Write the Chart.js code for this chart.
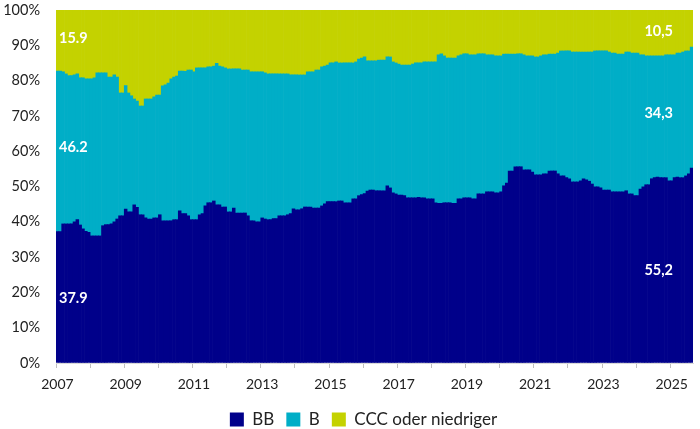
<!DOCTYPE html>
<html>
<head>
<meta charset="utf-8">
<script src="https://cdn.jsdelivr.net/npm/chart.js@4.4.1/dist/chart.umd.min.js"></script>
<style>
  html, body { margin: 0; padding: 0; background: #fff; }
  #wrap { width: 700px; height: 429px; }
</style>
</head>
<body>
<div id="wrap"><canvas id="chart"></canvas></div>
<script>
// Monatswerte Jan 2007 - Aug 2025, Anteile in %
const years = ['2007', '2008', '2009', '2010', '2011', '2012', '2013', '2014', '2015', '2016',
  '2017', '2018', '2019', '2020', '2021', '2022', '2023', '2024', '2025'];
const lastMonth = 8; // Aug 2025

const bbShare = [
  37.2, 37.2, 39.4, 39.4, 39.4, 39.4, 40.0, 40.6, 39.1, 38.0, 37.3, 37.0,
  36.0, 36.0, 36.0, 36.0, 38.9, 39.2, 39.2, 39.4, 40.0, 40.8, 41.7, 41.7,
  43.6, 42.8, 42.8, 44.8, 44.1, 42.0, 42.0, 41.1, 40.8, 40.8, 41.1, 41.1,
  42.0, 40.3, 40.3, 40.3, 40.3, 40.6, 40.6, 43.1, 42.3, 42.3, 41.7, 40.6,
  40.6, 40.6, 42.0, 42.3, 44.5, 45.4, 45.4, 45.9, 44.8, 44.8, 44.2, 44.2,
  42.8, 42.8, 43.9, 42.5, 42.5, 42.5, 42.5, 41.7, 40.3, 40.3, 40.0, 40.0,
  41.1, 40.8, 40.6, 40.6, 40.9, 40.9, 41.7, 41.7, 41.7, 42.0, 42.3, 43.7,
  43.4, 43.4, 43.7, 44.2, 44.2, 44.2, 43.9, 43.9, 43.9, 44.5, 45.1, 45.7,
  45.7, 45.7, 45.7, 45.9, 45.9, 45.4, 45.4, 45.4, 46.5, 46.5, 47.4, 47.7,
  48.0, 48.7, 49.0, 49.0, 48.8, 48.8, 48.8, 48.8, 50.2, 49.6, 48.2, 47.9,
  47.6, 47.6, 47.4, 46.8, 46.8, 46.8, 46.8, 46.9, 46.8, 46.8, 46.5, 46.5,
  46.5, 45.4, 45.2, 45.2, 45.4, 45.4, 45.4, 45.2, 45.2, 46.5, 46.5, 46.8,
  46.8, 46.8, 46.5, 46.5, 47.9, 47.9, 47.9, 48.5, 48.5, 48.5, 48.2, 48.2,
  48.5, 50.2, 51.0, 54.4, 54.4, 55.6, 55.6, 55.6, 54.7, 54.7, 54.7, 54.1,
  53.3, 53.3, 53.3, 53.6, 53.6, 54.4, 54.4, 54.4, 53.6, 53.0, 53.0, 52.5,
  52.2, 51.3, 51.3, 51.3, 51.6, 52.2, 51.9, 51.5, 50.7, 49.9, 49.9, 49.6,
  49.0, 49.0, 49.0, 48.5, 48.5, 48.5, 48.5, 48.5, 48.8, 47.9, 47.9, 47.4,
  47.4, 49.3, 49.9, 50.5, 50.5, 52.2, 52.5, 52.7, 52.5, 52.5, 52.5, 51.6,
  51.6, 52.5, 52.7, 52.5, 52.5, 53.0, 53.6, 55.2
];

const bShare = [
  45.5, 45.5, 43.1, 42.5, 42.0, 42.0, 41.6, 41.3, 41.7, 42.8, 43.2, 43.5,
  44.5, 44.8, 46.2, 46.2, 43.3, 43.0, 41.8, 41.6, 41.6, 40.2, 34.8, 34.8,
  35.0, 33.7, 32.9, 30.0, 30.1, 30.8, 30.8, 33.7, 34.0, 34.0, 34.3, 34.8,
  33.9, 38.2, 38.5, 39.0, 40.2, 40.4, 40.7, 39.6, 40.4, 40.3, 41.3, 42.4,
  41.9, 43.0, 41.6, 41.3, 39.1, 38.5, 38.5, 38.2, 40.1, 39.3, 39.7, 39.4,
  40.5, 40.5, 39.4, 40.8, 40.8, 40.5, 40.5, 41.3, 42.2, 42.2, 42.5, 42.5,
  41.4, 41.4, 41.3, 41.3, 41.0, 41.0, 40.2, 40.2, 40.2, 39.9, 39.3, 37.9,
  38.2, 38.2, 37.9, 37.4, 38.3, 38.3, 38.6, 39.1, 39.1, 39.4, 39.0, 38.7,
  39.3, 39.3, 39.6, 39.1, 39.1, 39.6, 39.6, 39.6, 38.5, 38.8, 38.7, 38.7,
  38.7, 36.9, 36.6, 36.6, 36.8, 37.0, 37.0, 37.0, 36.5, 37.1, 37.1, 37.1,
  37.1, 36.8, 37.0, 37.6, 37.6, 37.9, 38.2, 38.1, 38.2, 38.5, 38.8, 38.8,
  38.8, 39.9, 42.1, 42.4, 41.6, 41.0, 41.0, 41.2, 41.2, 40.5, 40.8, 40.8,
  40.8, 40.5, 40.8, 40.8, 39.7, 39.7, 39.7, 38.8, 38.8, 38.8, 38.8, 38.8,
  38.5, 37.3, 36.5, 33.1, 33.1, 31.9, 32.0, 32.0, 32.6, 32.3, 32.3, 32.9,
  33.4, 33.4, 33.7, 33.7, 33.7, 33.1, 33.1, 33.1, 34.2, 35.4, 35.4, 35.9,
  36.2, 36.8, 36.8, 36.8, 36.5, 35.9, 36.2, 36.6, 37.4, 38.5, 38.5, 38.8,
  39.4, 39.4, 39.1, 39.3, 39.3, 39.0, 39.0, 39.0, 39.3, 40.2, 39.9, 40.4,
  40.4, 38.0, 37.4, 36.5, 36.5, 34.8, 34.5, 34.3, 34.5, 34.5, 34.8, 35.7,
  35.7, 34.8, 35.1, 35.3, 35.6, 35.4, 34.8, 34.3
];

const cccShare = [
  17.3, 17.3, 17.5, 18.1, 18.6, 18.6, 18.4, 18.1, 19.2, 19.2, 19.5, 19.5,
  19.5, 19.2, 17.8, 17.8, 17.8, 17.8, 19.0, 19.0, 18.4, 19.0, 23.5, 23.5,
  21.4, 23.5, 24.3, 25.2, 25.8, 27.2, 27.2, 25.2, 25.2, 25.2, 24.6, 24.1,
  24.1, 21.5, 21.2, 20.7, 19.5, 19.0, 18.7, 17.3, 17.3, 17.4, 17.0, 17.0,
  17.5, 16.4, 16.4, 16.4, 16.4, 16.1, 16.1, 15.9, 15.1, 15.9, 16.1, 16.4,
  16.7, 16.7, 16.7, 16.7, 16.7, 17.0, 17.0, 17.0, 17.5, 17.5, 17.5, 17.5,
  17.5, 17.8, 18.1, 18.1, 18.1, 18.1, 18.1, 18.1, 18.1, 18.1, 18.4, 18.4,
  18.4, 18.4, 18.4, 18.4, 17.5, 17.5, 17.5, 17.0, 17.0, 16.1, 15.9, 15.6,
  15.0, 15.0, 14.7, 15.0, 15.0, 15.0, 15.0, 15.0, 15.0, 14.7, 13.9, 13.6,
  13.3, 14.4, 14.4, 14.4, 14.4, 14.2, 14.2, 14.2, 13.3, 13.3, 14.7, 15.0,
  15.3, 15.6, 15.6, 15.6, 15.6, 15.3, 15.0, 15.0, 15.0, 14.7, 14.7, 14.7,
  14.7, 14.7, 12.7, 12.4, 13.0, 13.6, 13.6, 13.6, 13.6, 13.0, 12.7, 12.4,
  12.4, 12.7, 12.7, 12.7, 12.4, 12.4, 12.4, 12.7, 12.7, 12.7, 13.0, 13.0,
  13.0, 12.5, 12.5, 12.5, 12.5, 12.5, 12.4, 12.4, 12.7, 13.0, 13.0, 13.0,
  13.3, 13.3, 13.0, 12.7, 12.7, 12.5, 12.5, 12.5, 12.2, 11.6, 11.6, 11.6,
  11.6, 11.9, 11.9, 11.9, 11.9, 11.9, 11.9, 11.9, 11.9, 11.6, 11.6, 11.6,
  11.6, 11.6, 11.9, 12.2, 12.2, 12.5, 12.5, 12.5, 11.9, 11.9, 12.2, 12.2,
  12.2, 12.7, 12.7, 13.0, 13.0, 13.0, 13.0, 13.0, 13.0, 13.0, 12.7, 12.7,
  12.7, 12.7, 12.2, 12.2, 11.9, 11.6, 11.6, 10.5
];

// Beschriftungen im Diagramm (Start- und Endwerte)
const noteTexts = ['15.9', '46.2', '37.9', '10,5', '34,3', '55,2'];
const noteLevels = [92.1, 61.0, 18.4, 93.9, 70.8, 26.2];
const noteSides = ['left', 'left', 'left', 'right', 'right', 'right'];

const FONT = 'Lato, "Open Sans", sans-serif';

// Monatskategorien aus den Jahren
const months = [];
years.forEach((y, i) => {
  const n = i === years.length - 1 ? lastMonth : 12;
  for (let m = 1; m <= n; m++) months.push(y + '-' + String(m).padStart(2, '0'));
});

const notesPlugin = {
  id: 'notes',
  afterLayout(chart) {
    // Legende etwas nach rechts, wie im Original
    chart.legend.left += 17;
    chart.legend.right += 17;
  },
  afterDatasetsDraw(chart) {
    const { ctx, chartArea, scales } = chart;
    ctx.save();
    ctx.fillStyle = '#ffffff';
    ctx.font = 'bold 14.5px ' + FONT;
    ctx.textBaseline = 'middle';
    noteTexts.forEach((t, i) => {
      const y = scales.y.getPixelForValue(noteLevels[i]);
      if (noteSides[i] === 'left') {
        ctx.textAlign = 'left';
        ctx.fillText(t, chartArea.left + 3, y);
      } else {
        ctx.textAlign = 'right';
        ctx.fillText(t, chartArea.right - 20, y);
      }
    });
    ctx.restore();
  }
};

new Chart(document.getElementById('chart'), {
  type: 'bar',
  data: {
    labels: months,
    datasets: [
      { label: 'BB', data: bbShare, backgroundColor: '#00008A' },
      { label: 'B', data: bShare, backgroundColor: '#00AEC7' },
      { label: 'CCC oder niedriger', data: cccShare, backgroundColor: '#C4D200' }
    ]
  },
  options: {
    responsive: true,
    maintainAspectRatio: false,
    animation: false,
    layout: {
      autoPadding: false,
      padding: { top: 10, right: 7, left: 0, bottom: -9 }
    },
    datasets: {
      bar: { barPercentage: 1, categoryPercentage: 1, borderWidth: 0 }
    },
    plugins: {
      legend: {
        position: 'bottom',
        labels: {
          boxWidth: 14,
          boxHeight: 14,
          padding: 12,
          color: '#222',
          font: { family: FONT, size: 17 }
        }
      },
      tooltip: { enabled: false }
    },
    scales: {
      x: {
        stacked: true,
        grid: {
          drawOnChartArea: false,
          tickLength: 5,
          color: (c) => (c.index % 12 === 0 ? '#BFBFBF' : 'rgba(0,0,0,0)')
        },
        border: { color: '#D9D9D9', width: 1 },
        ticks: {
          autoSkip: false,
          maxRotation: 0,
          padding: 8,
          color: '#222',
          font: { family: FONT, size: 14 },
          callback: function(value, index) {
            return index % 24 === 0 ? months[index].slice(0, 4) : '';
          }
        },
        afterFit: (axis) => { axis.height = 36; }
      },
      y: {
        stacked: true,
        min: 0,
        max: 100,
        // unsichtbare Ticks als Abstand zwischen Beschriftung und Fläche
        grid: { drawOnChartArea: false, drawTicks: true, tickLength: 15, color: 'rgba(0,0,0,0)' },
        border: { display: false },
        ticks: {
          stepSize: 10,
          padding: 1,
          color: '#222',
          font: { family: FONT, size: 14.5 },
          callback: (v) => v + '%'
        },
        afterFit: (axis) => { axis.width = 56; }
      }
    }
  },
  plugins: [notesPlugin]
});
</script>
</body>
</html>
